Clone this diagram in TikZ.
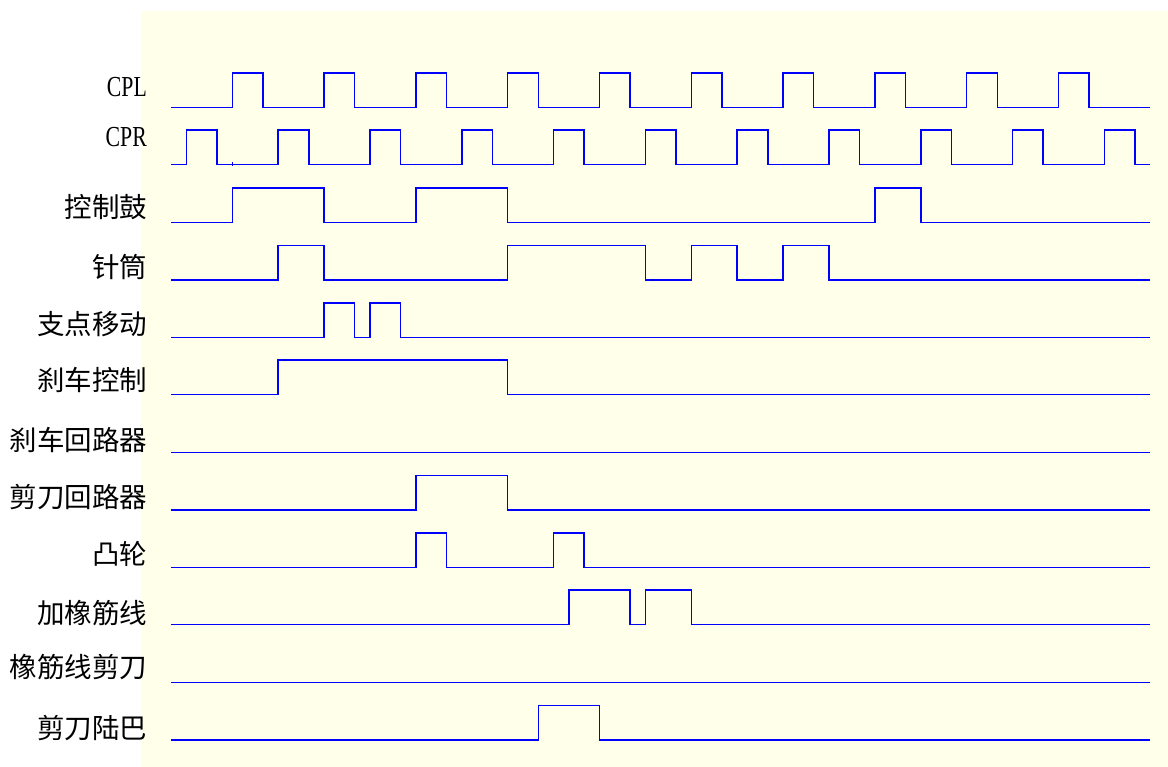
\documentclass[tikz,border=0pt]{standalone}
\usepackage{fontspec}
\newfontfamily\cjk{Noto Sans CJK SC}
\newfontfamily\lat[FakeStretch=0.75]{Liberation Serif}
\definecolor{bg}{RGB}{255,255,234}
\definecolor{wave}{RGB}{0,0,255}
\begin{document}
\begin{tikzpicture}[x=1pt,y=-1pt,
  lbl/.style={anchor=east,inner sep=0pt,font=\cjk\fontsize{27.5}{27.5}\selectfont},
  latlbl/.style={anchor=base east,inner sep=0pt,font=\lat\fontsize{29}{29}\selectfont},
  sig/.style={draw=wave,line width=1.5pt,line join=miter}]
\useasboundingbox (0,0) rectangle (1168,767);
\fill[bg] (142,11) rectangle (1168,767);

% labels
\node[latlbl] (lcpl) at (147,97) {CPL};
\node[latlbl] (lcpr) at (147,146.7) {CPR};
\node[lbl] (l3) at (147.5,207) {控制鼓};
\node[lbl] (l4) at (147.5,267) {针筒};
\node[lbl] (l5) at (147.5,324) {支点移动};
\node[lbl] (l6) at (147.5,380) {刹车控制};
\node[lbl] (l7) at (147.5,439.5) {刹车回路器};
\node[lbl] (l8) at (147.5,497.5) {剪刀回路器};
\node[lbl] (l9) at (147.5,554) {凸轮};
\node[lbl] (l10) at (147.5,613.5) {加橡筋线};
\node[lbl] (l11) at (147.5,667.5) {橡筋线剪刀};
\node[lbl] (l12) at (147.5,728.5) {剪刀陆巴};

% waveforms
\begin{scope}[xshift=171.1pt,x=30.6pt,y=-1pt]
  % CPL
  \draw[sig] (0,107.3) \foreach \a in {2,5,...,29}{ -- (\a,107.3) -- (\a,72.8) -- (\a+1,72.8) -- (\a+1,107.3)} -- (32,107.3);
  % CPR
  \draw[sig] (0,164.7) \foreach \a in {0.5,3.5,...,30.5}{ -- (\a,164.7) -- (\a,130.2) -- (\a+1,130.2) -- (\a+1,164.7)} -- (32,164.7);
  \draw[draw=wave,line width=1.2pt] (2,162.5) -- (2,166);
  % 控制鼓
  \draw[sig] (0,222.3) -- (2,222.3) -- (2,187.8) -- (5,187.8) -- (5,222.3)
     -- (8,222.3) -- (8,187.8) -- (11,187.8) -- (11,222.3)
     -- (23,222.3) -- (23,187.8) -- (24.5,187.8) -- (24.5,222.3) -- (32,222.3);
  % 针筒
  \draw[sig] (0,280) -- (3.5,280) -- (3.5,245.5) -- (5,245.5) -- (5,280)
     -- (11,280) -- (11,245.5) -- (15.5,245.5) -- (15.5,280)
     -- (17,280) -- (17,245.5) -- (18.5,245.5) -- (18.5,280)
     -- (20,280) -- (20,245.5) -- (21.5,245.5) -- (21.5,280) -- (32,280);
  % 支点移动
  \draw[sig] (0,337.3) -- (5,337.3) -- (5,302.8) -- (6,302.8) -- (6,337.3)
     -- (6.5,337.3) -- (6.5,302.8) -- (7.5,302.8) -- (7.5,337.3) -- (32,337.3);
  % 刹车控制
  \draw[sig] (0,394.7) -- (3.5,394.7) -- (3.5,360.2) -- (11,360.2) -- (11,394.7) -- (32,394.7);
  % 刹车回路器
  \draw[sig] (0,452.3) -- (32,452.3);
  % 剪刀回路器
  \draw[sig] (0,510) -- (8,510) -- (8,475.5) -- (11,475.5) -- (11,510) -- (32,510);
  % 凸轮
  \draw[sig] (0,567.3) -- (8,567.3) -- (8,532.8) -- (9,532.8) -- (9,567.3)
     -- (12.5,567.3) -- (12.5,532.8) -- (13.5,532.8) -- (13.5,567.3) -- (32,567.3);
  % 加橡筋线
  \draw[sig] (0,624.7) -- (13,624.7) -- (13,590.2) -- (15,590.2) -- (15,624.7)
     -- (15.5,624.7) -- (15.5,590.2) -- (17,590.2) -- (17,624.7) -- (32,624.7);
  % 橡筋线剪刀
  \draw[sig] (0,682.3) -- (32,682.3);
  % 剪刀陆巴
  \draw[sig] (0,740) -- (12,740) -- (12,705.5) -- (14,705.5) -- (14,740) -- (32,740);
\end{scope}
\end{tikzpicture}
\end{document}
